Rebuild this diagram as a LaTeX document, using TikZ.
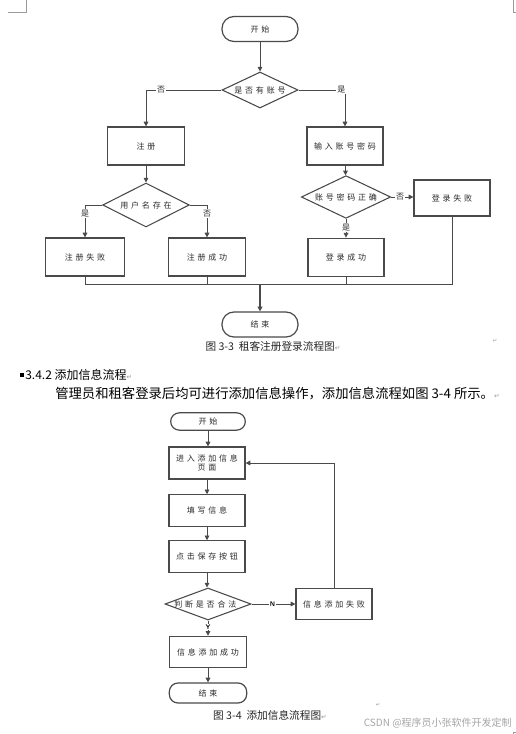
\documentclass[tikz,border=0pt]{standalone}
\usepackage{fontspec}
\setmainfont{Noto Sans CJK SC}
\newfontfamily\cjkfont{Noto Sans CJK SC}
\newfontfamily\boxfont[LetterSpace=35]{Noto Sans CJK SC}
\newfontfamily\symfont{DejaVu Sans}
\usetikzlibrary{arrows.meta,positioning,shapes.geometric}
\definecolor{ln}{HTML}{4A4A4A}
\definecolor{txt}{HTML}{2A2A2A}
\definecolor{pmark}{HTML}{9A9A9A}
\newcommand{\parmark}{{\symfont\color{pmark}\fontsize{5}{5}\selectfont ↵}}

\tikzset{
  box/.style={draw=ln, line width=0.9pt, minimum width=57pt, minimum height=28.5pt,
    inner sep=1pt, text=txt, font=\boxfont\fontsize{6}{8}\selectfont, align=center},
  smallbox/.style={box, minimum height=23.5pt},
  term/.style={box, rounded corners=9pt, minimum height=18.75pt},
  smallterm/.style={box, rounded corners=6.5pt, minimum height=13pt},
  decide/.style={draw=ln, line width=0.8pt, diamond, inner sep=0pt, minimum width=#1},
  decidetext/.style={text=txt, font=\boxfont\fontsize{6}{8}\selectfont, inner sep=0pt},
  arr/.style={draw=ln, line width=0.6pt, -{Triangle[length=3.5pt,width=3.5pt]}},
  lbl/.style={fill=white, inner sep=0.6pt, text=txt, font=\boxfont\fontsize{6}{7}\selectfont},
  lblyn/.style={fill=white, inner sep=0.6pt, text=black, font=\sffamily\bfseries\fontsize{5}{6}\selectfont},
  caption/.style={text=black!85, font=\cjkfont\fontsize{8}{9}\selectfont},
  cropmark/.style={draw=pmark, line width=0.5pt}
}

\begin{document}
\begin{tikzpicture}[x=0.75pt, y=-0.75pt, every label/.style=decidetext]
  \path[fill=white, use as bounding box] (0,0) rectangle (516,734);

  % crop marks
  \draw[cropmark] (8,12) -- (26,12) -- (26,0);
  \draw[cropmark] (516,12) -- (513,12) -- (513,0);
  \draw[cropmark] (516,732) -- (513,732) -- (513,734);

  % figure 3-3
  \node[term] (start1) at (260,29) {开始};
  \node[decide=57pt, minimum height=27pt, label=center:{是否有账号}] (q1) at (260,90) {};
  \node[box, minimum width=58pt] (reg) at (146,146) {注册};
  \node[box] (login) at (345,146) {输入账号密码};
  \node[decide=65pt, minimum height=33pt, label=center:{用户名存在}] (q2) at (146,205) {};
  \node[box, minimum width=59pt] (regfail) at (85,257) {注册失败};
  \node[box, minimum width=58pt] (regok) at (207,257) {注册成功};
  \node[decide=67pt, minimum height=32pt, label=center:{账号密码正确}] (q3) at (346,197) {};
  \node[box, minimum height=27pt] (lfail) at (452,198) {登录失败};
  \node[box, minimum height=29pt] (lok) at (346,257.5) {登录成功};
  \node[term] (end1) at (260,324.5) {结束};
  \coordinate (m) at (260,284);

  \draw[arr] (start1) -- (q1);
  \draw[arr] (q1.west) -| node[lbl, pos=0.4] {否} (reg.north);
  \draw[arr] (q1.east) -| node[lbl, pos=0.46] {是} (login.north);
  \draw[arr] (reg) -- (q2);
  \draw[arr] (q2.west) -| node[lbl, pos=0.63] {是} (regfail.north);
  \draw[arr] (q2.east) -| node[lbl, pos=0.63] {否} (regok.north);
  \draw[arr] (login) -- (q3);
  \draw[arr] (q3.east) -- node[lbl, pos=0.4] {否} (q3.east -| lfail.west);
  \draw[arr] (q3) -- node[lbl, pos=0.45] {是} (lok);
  \draw[draw=ln, line width=0.6pt] (regfail.south) |- (lfail.south |- m) -- (lfail.south);
  \draw[draw=ln, line width=0.6pt] (regok.south) -- (regok.south |- m);
  \draw[draw=ln, line width=0.6pt] (lok.south) -- (lok.south |- m);
  \draw[arr, line width=1.3pt] (m) -- (end1);

  \node[caption] (cap1) at (273,346) {图 3-3\ \ 租客注册登录流程图\parmark};
  \node[font=\symfont\fontsize{4}{4}\selectfont, text=pmark] (dot1) at (495,341) {↵};

  % section text
  \fill[black] (20,373) rectangle (23.5,376.5);
  \node[anchor=west, inner sep=0pt, font=\cjkfont\fontsize{9}{10}\selectfont] (sec) at (25,375)
    {3.4.2 添加信息流程\parmark};
  \node[anchor=west, inner sep=0pt, font=\cjkfont\fontsize{10}{11}\selectfont] (para) at (55,393.5)
    {管理员和租客登录后均可进行添加信息操作，添加信息流程如图 3-4 所示。\parmark};

  % figure 3-4
  \node[smallterm, minimum width=56pt] (start2) at (208,421.5) {开始};
  \node[smallbox, minimum height=24pt, font=\boxfont\fontsize{6}{7}\selectfont] (page) at (207,463) {进入添加信息\\页面};
  \node[smallbox] (fill) at (207,510.5) {填写信息};
  \node[smallbox] (save) at (207,556.5) {点击保存按钮};
  \node[decide=64.5pt, minimum height=24pt, label={[xshift=-2pt]center:{判断是否合法}}] (q4) at (208,604) {};
  \node[smallbox] (fail2) at (334,604) {信息添加失败};
  \node[smallbox, minimum width=58pt] (ok2) at (208,652) {信息添加成功};
  \node[smallterm, minimum width=58pt, minimum height=15pt] (end2) at (208,693) {结束};

  \draw[arr] (start2.south) -- (start2.south |- page.north);
  \draw[arr] (page) -- (fill);
  \draw[arr] (fill) -- (save);
  \draw[arr] (save.south) -- (save.south |- q4.north);
  \draw[arr] (q4) -- node[lblyn, pos=0.48] {N} (fail2);
  \draw[arr] (q4) -- node[lblyn, pos=0.45] {Y} (ok2);
  \draw[arr] (fail2.north) |- (page.east);
  \draw[arr] (ok2) -- (end2);

  \node[caption] (cap2) at (270,715) {图 3-4\ \ 添加信息流程图\parmark};
  \node[font=\symfont\fontsize{4}{4}\selectfont, text=pmark] (dot2) at (378,705) {↵};
  \node[anchor=east, inner sep=0pt, text=black!35, font=\cjkfont\fontsize{7.5}{8}\selectfont] (wm) at (512,723)
    {CSDN @程序员小张软件开发定制};
\end{tikzpicture}
\end{document}
